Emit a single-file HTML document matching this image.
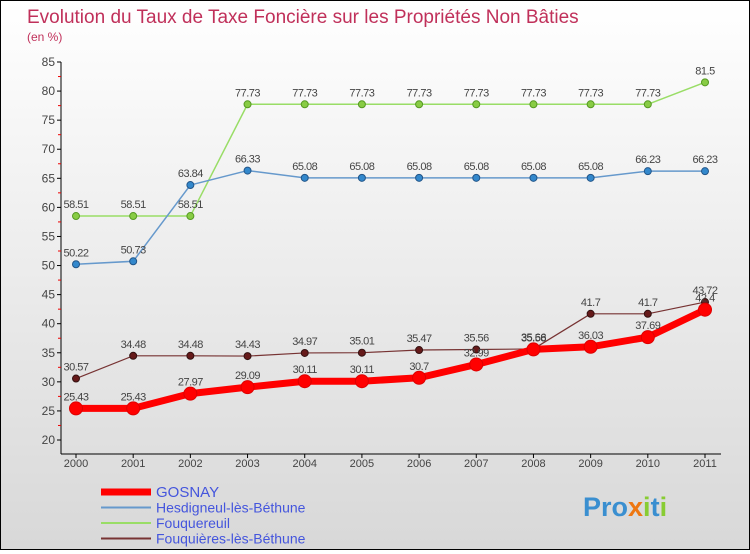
<!DOCTYPE html>
<html><head><meta charset="utf-8"><style>
body{margin:0;width:750px;height:550px;overflow:hidden;font-family:"Liberation Sans",sans-serif}
#wrap{position:relative;width:748px;height:548px;border:1px solid #000;background:linear-gradient(#fff,#d8d8d8)}
</style></head><body>
<div id="wrap">
<svg id="chart" width="748" height="548"></svg>
</div>
<script>
const years=[2000,2001,2002,2003,2004,2005,2006,2007,2008,2009,2010,2011];
const gosnay=[25.43,25.43,27.97,29.09,30.11,30.11,30.7,32.99,35.58,36.03,37.69,42.4];
const hesdigneul=[50.22,50.73,63.84,66.33,65.08,65.08,65.08,65.08,65.08,65.08,66.23,66.23];
const fouquereuil=[58.51,58.51,58.51,77.73,77.73,77.73,77.73,77.73,77.73,77.73,77.73,81.5];
const fouquieres=[30.57,34.48,34.48,34.43,34.97,35.01,35.47,35.56,35.66,41.7,41.7,43.72];
const yTicks=[20,25,30,35,40,45,50,55,60,65,70,75,80,85];
const svg=document.getElementById('chart');
const NS='http://www.w3.org/2000/svg';
function X(i){return 75+i*(704-75)/11;}
function Y(v){return 439-(v-20)*(439-61)/65;}
function el(t,a,p){const e=document.createElementNS(NS,t);for(const k in a)e.setAttribute(k,a[k]);(p||svg).appendChild(e);return e;}
let t=el('text',{x:26,y:22,fill:'#c0305a','font-size':19});t.textContent='Evolution du Taux de Taxe Foncière sur les Propriétés Non Bâties';

t=el('text',{x:26,y:40,fill:'#c0305a','font-size':12});t.textContent='(en %)';

let ax=el('line',{x1:60,y1:61,x2:60,y2:453,stroke:'#000'});

ax=el('line',{x1:60,y1:453,x2:720,y2:453,stroke:'#000'});

yTicks.forEach((v,i)=>{const y=Y(v);el('line',{x1:56,y1:y,x2:60,y2:y,stroke:'#000'});
if(i<yTicks.length-1){el('line',{x1:57,y1:Y(v+2.5),x2:60,y2:Y(v+2.5),stroke:'#e00'});}
const tx=el('text',{x:54,y:y+4,'text-anchor':'end','font-size':12,fill:'#444'});tx.textContent=v;
});
years.forEach((yr,i)=>{const x=X(i);el('line',{x1:x,y1:453,x2:x,y2:457,stroke:'#000'});
const tx=el('text',{x:x,y:466,'text-anchor':'middle','font-size':11,fill:'#444'});tx.textContent=yr;
});
function series(vals,color,w,r,name,dot,stroke){
 const g=el('g',{});
 el('polyline',{points:vals.map((v,i)=>X(i)+','+Y(v)).join(' '),fill:'none',stroke:color,'stroke-width':w,'stroke-linejoin':'round'},g);
 vals.forEach((v,i)=>{const c=el('circle',{cx:X(i),cy:Y(v),r:r,fill:dot,stroke:stroke,'stroke-width':1},g);
  
  const tx=el('text',{x:X(i),y:Y(v)-8,'text-anchor':'middle','font-size':11,fill:'#444','letter-spacing':'-0.5'},g);tx.textContent=v;});
}
series(fouquereuil,'#99dd66',1.5,3.5,'fouquereuil-series','#88cc44','#559922');
series(hesdigneul,'#6699cc',1.5,3.5,'hesdigneul-series','#3388cc','#225588');
series(fouquieres,'#773333',1.2,3.5,'fouquieres-series','#661a1a','#331111');
series(gosnay,'#ff0000',7,6.5,'gosnay-series','#ff0000','#dd0000');
const leg=[['GOSNAY','#ff0000',7],['Hesdigneul-lès-Béthune','#6699cc',2],['Fouquereuil','#99dd66',2],['Fouquières-lès-Béthune','#773333',2]];
leg.forEach((l,i)=>{const y=491+i*15.5;const g=el('g',{});
 el('line',{x1:100,y1:y,x2:150,y2:y,stroke:l[1],'stroke-width':l[2]},g);
 const tx=el('text',{x:155,y:y+5,'font-size':i==0?15:14,fill:'#4455dd'},g);tx.textContent=l[0];});
t=el('text',{x:582,y:515,'font-size':27,'font-weight':'bold'});

[['Pro','#3a8fd0'],['x','#ee7711'],['i','#88cc33'],['t','#3a8fd0'],['i','#88cc33']].forEach(p=>{const s=el('tspan',{fill:p[1]},t);s.textContent=p[0];});
</script>
</body></html>
